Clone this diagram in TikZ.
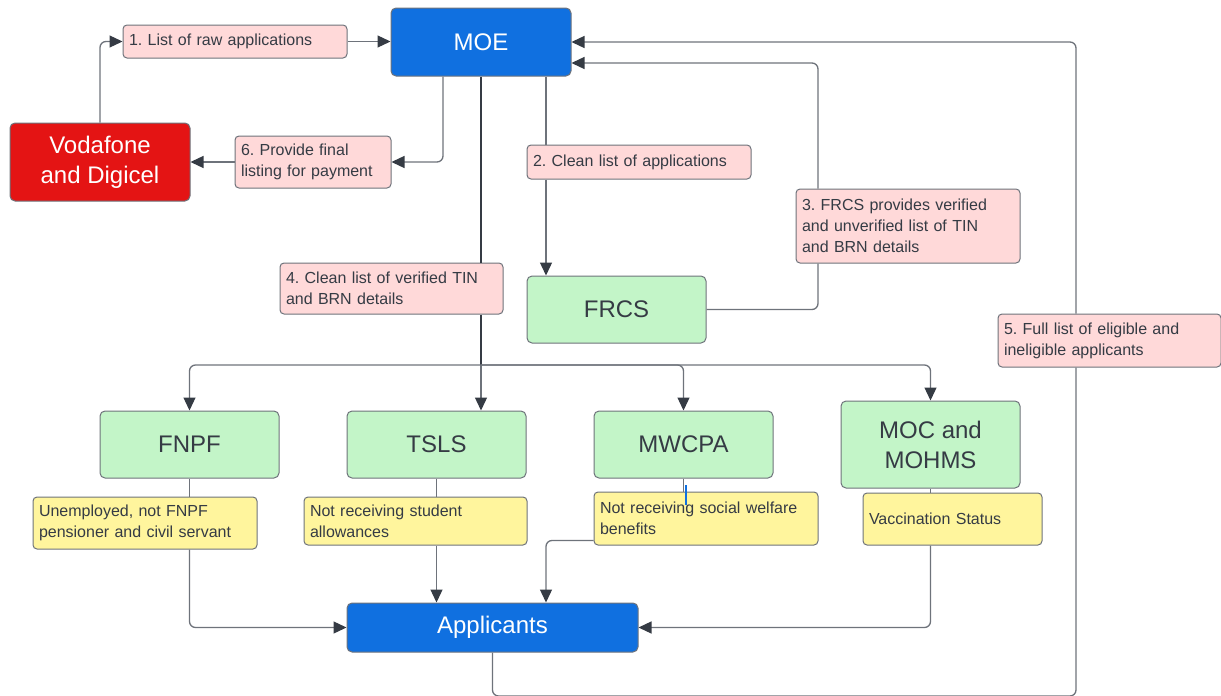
\documentclass[tikz,border=0pt]{standalone}
\usepackage{fontspec}
\setmainfont{Liberation Sans}
\usetikzlibrary{arrows.meta}
\frenchspacing

\definecolor{moeblue}{HTML}{1070E0}
\definecolor{vodared}{HTML}{E41414}
\definecolor{agencygreen}{HTML}{C3F5C8}
\definecolor{stepink}{HTML}{FFD9D9}
\definecolor{crityellow}{HTML}{FFF59D}
\definecolor{edgegray}{HTML}{6E737B}
\definecolor{inkgray}{HTML}{353B44}

\tikzset{
	bigbox/.style={draw=edgegray, line width=1pt, rounded corners=5pt, align=center, inner sep=0pt,
		font=\fontsize{24}{30}\selectfont},
	actor/.style={bigbox, fill=#1, text=white},
	agency/.style={bigbox, fill=agencygreen, text=inkgray},
	steplabel/.style={draw=edgegray, line width=1pt, fill=stepink, rounded corners=4pt, text=inkgray,
		align=left, inner xsep=6pt, inner ysep=0pt, text width=#1, font=\fontsize{16}{21}\selectfont},
	criterion/.style={steplabel=#1, fill=crityellow},
	flow/.style={draw=edgegray, line width=1.3pt, rounded corners=6pt},
	arr/.style={flow, -{Triangle[length=13pt, width=12pt, color=inkgray]}},
	trunk/.style={draw=inkgray, line width=2pt, rounded corners=6pt}
}

\begin{document}
\begin{tikzpicture}[x=1pt, y=-1pt]
	\useasboundingbox (0,0) rectangle (1221,696);

	\node [actor=moeblue, minimum width=180pt, minimum height=68pt] (moe) at (481,42) {MOE};
	\node [actor=vodared, minimum width=180pt, minimum height=78pt] (voda) at (100,162) {Vodafone\\and Digicel};
	\node [agency, minimum width=179pt, minimum height=67pt] (frcs) at (616.5,309.5) {FRCS};
	\node [agency, minimum width=179pt, minimum height=67pt] (fnpf) at (189.5,444.5) {FNPF};
	\node [agency, minimum width=179pt, minimum height=67pt] (tsls) at (436.5,444.5) {TSLS};
	\node [agency, minimum width=179pt, minimum height=67pt] (mwcpa) at (683.5,444.5) {MWCPA};
	\node [agency, minimum width=179pt, minimum height=87pt] (moc) at (930.5,444.5) {MOC and\\MOHMS};
	\node [actor=moeblue, minimum width=291pt, minimum height=49pt] (app) at (492.5,627.5) {Applicants};

	\node [steplabel=212pt, minimum height=33pt] (l1) at (235,41.5) {1. List of raw applications};
	\node [steplabel=212pt, minimum height=34pt] (l2) at (639,162) {2. Clean list of applications};
	\node [steplabel=212pt, minimum height=74pt] (l3) at (908,226) {3. FRCS provides verified\\and unverified list of TIN\\and BRN details};
	\node [steplabel=211pt, minimum height=51pt] (l4) at (391.5,288.5) {4. Clean list of verified TIN\\and BRN details};
	\node [steplabel=211pt, minimum height=53pt] (l5) at (1109.5,340.5) {5. Full list of eligible and\\ineligible applicants};
	\node [steplabel=144pt, minimum height=52pt] (l6) at (313,162) {6. Provide final\\listing for payment};

	\node [criterion=212pt, minimum height=52pt] (y1) at (145,523) {Unemployed, not FNPF\\pensioner and civil servant};
	\node [criterion=211pt, minimum height=48pt] (y2) at (415.5,521) {Not receiving student\\allowances};
	\node [criterion=212pt, minimum height=53pt] (y3) at (706,518.5) {Not receiving social welfare\\benefits};
	\node [criterion=167pt, minimum height=52pt] (y4) at (952.5,519) {Vaccination Status};

	\coordinate (br) at (481,365);
	\coordinate (bot) at (0,696);

	\draw [arr] (voda.north) |- (l1.west);
	\draw [arr] (l1.east) -- (l1.east -| moe.west);
	\draw [arr] ([xshift=-38pt]moe.south) |- (l6.east);
	\draw [arr] (l6.west) -- (voda.east);

	\draw [flow] ([xshift=65pt]moe.south) -- ([xshift=65pt]moe.south |- l2.north);
	\draw [arr] ([xshift=65pt]moe.south |- l2.south) -- ([xshift=65pt]moe.south |- frcs.north);
	\draw [flow] (frcs.east) -| ([xshift=-90pt]l3.south);
	\draw [arr] ([xshift=-90pt]l3.north) |- ([yshift=-21pt]moe.east);

	\draw [trunk] (moe.south) -- (moe.south |- l4.north);
	\draw [trunk] (moe.south |- l4.south) -- (br);
	\draw [arr] (br) -| (fnpf.north);
	\draw [arr] (br) -- (br |- tsls.north);
	\draw [arr] (br) -| (mwcpa.north);
	\draw [arr] (br) -| (moc.north);

	\draw [flow] (fnpf.south) -- (fnpf.south |- y1.north);
	\draw [arr] (fnpf.south |- y1.south) |- (app.west);
	\draw [flow] (tsls.south) -- (tsls.south |- y2.north);
	\draw [arr] (tsls.south |- y2.south) -- (tsls.south |- app.north);
	\draw [flow] (mwcpa.south) -- (mwcpa.south |- y3.north);
	\draw [arr] ([yshift=-22pt]y3.west) -| ([xshift=53.5pt]app.north);
	\draw [flow] (moc.south) -- (moc.south |- y4.north);
	\draw [arr] (moc.south |- y4.south) |- (app.east);

	\draw [flow] (app.south) |- ([xshift=-33.5pt]l5.south |- bot) -- ([xshift=-33.5pt]l5.south);
	\draw [arr] ([xshift=-33.5pt]l5.north) |- (moe.east);

	\draw [moeblue, line width=1.5pt] (686,485) -- (686,505);
\end{tikzpicture}
\end{document}
